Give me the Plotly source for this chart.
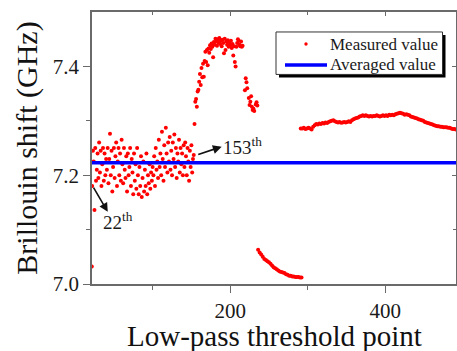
import plotly.graph_objects as go

# ---------------- data ----------------
# noisy region, one value per threshold point 22..153
noise_start = 22
noise_y = [
    7.180, 7.245, 7.225, 7.136, 7.250, 7.190, 7.210, 7.240, 7.195, 7.260,
    7.205, 7.245, 7.180, 7.220, 7.250, 7.190, 7.240, 7.200, 7.230,
    7.210, 7.250, 7.185, 7.230, 7.276, 7.200, 7.245, 7.170, 7.215, 7.250,
    7.195, 7.235, 7.260, 7.180, 7.225, 7.250, 7.200, 7.240, 7.190, 7.265,
    7.220, 7.185, 7.250, 7.210, 7.195, 7.235, 7.170, 7.240, 7.200, 7.215,
    7.250, 7.180, 7.230, 7.205, 7.165, 7.240, 7.190, 7.220, 7.175, 7.250,
    7.200, 7.165, 7.215, 7.180, 7.235, 7.160, 7.195, 7.225, 7.170, 7.210,
    7.180, 7.240, 7.165, 7.200, 7.185, 7.220, 7.175, 7.205, 7.190, 7.215,
    7.200, 7.235, 7.180, 7.250, 7.210, 7.225, 7.195, 7.265, 7.215, 7.240,
    7.200, 7.280, 7.230, 7.190, 7.255, 7.215, 7.287, 7.240, 7.205, 7.260,
    7.225, 7.270, 7.210, 7.245, 7.200, 7.260, 7.230, 7.275, 7.215, 7.250,
    7.195, 7.240, 7.225, 7.265, 7.205, 7.250, 7.220, 7.240, 7.200, 7.255,
    7.215, 7.260, 7.235, 7.200, 7.250, 7.225, 7.190, 7.245, 7.215, 7.255,
    7.205, 7.230, 7.237,
]

# rise / peak / fall region
peak_x = [154, 155, 156, 157, 158, 159, 160, 161, 162, 163, 164, 165, 166, 167,
          168, 169, 170, 171, 172, 173, 174, 175, 176, 177, 178, 179, 180, 181,
          182, 183, 184, 185, 186, 187, 188, 189, 190, 191, 192, 193, 194, 195,
          196, 197, 198, 199, 200, 201, 202, 203, 204, 205, 206, 207, 208, 209,
          210, 211, 212, 213, 214, 215, 216, 219, 220, 221, 222, 224, 225, 226,
          227, 228, 229, 230, 231, 233, 234, 235]
peak_y = [7.294, 7.335, 7.340, 7.326, 7.354, 7.357, 7.372, 7.386, 7.366, 7.397,
          7.380, 7.405, 7.381, 7.410, 7.427, 7.408, 7.430, 7.402, 7.433, 7.425,
          7.439, 7.432, 7.442, 7.436, 7.417, 7.445, 7.440, 7.451, 7.446, 7.438,
          7.450, 7.444, 7.452, 7.441, 7.447, 7.437, 7.449, 7.443, 7.424, 7.451,
          7.430, 7.446, 7.440, 7.448, 7.436, 7.444, 7.439, 7.447, 7.434, 7.441,
          7.420, 7.437, 7.408, 7.400, 7.436, 7.443, 7.450, 7.447, 7.440, 7.437,
          7.446, 7.436, 7.438, 7.356, 7.378, 7.371, 7.360, 7.342, 7.329, 7.335,
          7.345, 7.326, 7.320, 7.322, 7.318, 7.330, 7.334, 7.328]

# low plateau, every 2nd point 236..292
low_x = list(range(236, 293, 2))
low_y = [7.063, 7.058, 7.054, 7.050, 7.046, 7.044, 7.042, 7.040, 7.037, 7.034,
         7.031, 7.029, 7.027, 7.025, 7.023, 7.022, 7.021, 7.020, 7.018, 7.017,
         7.015, 7.015, 7.014, 7.014, 7.013, 7.013, 7.013, 7.012, 7.012]

# flat plateau, every 2nd point 291..491
flat_x = list(range(291, 492, 2))
flat_y = [7.286, 7.286, 7.287, 7.285, 7.286, 7.287, 7.286, 7.284, 7.289, 7.292,
          7.294, 7.293, 7.295, 7.294, 7.296, 7.295, 7.297, 7.296, 7.298, 7.299,
          7.300, 7.301, 7.299, 7.298, 7.297, 7.298, 7.2965, 7.297, 7.298, 7.297,
          7.298, 7.299, 7.298, 7.301, 7.303, 7.304, 7.305, 7.306, 7.308, 7.309,
          7.310, 7.309, 7.310, 7.309, 7.308, 7.309, 7.308, 7.309, 7.309, 7.310,
          7.309, 7.308, 7.309, 7.310, 7.309, 7.310, 7.309, 7.311, 7.310, 7.311,
          7.310, 7.312, 7.313, 7.314, 7.315, 7.314, 7.313, 7.311, 7.312, 7.311,
          7.310, 7.308, 7.307, 7.306, 7.305, 7.304, 7.303, 7.302, 7.301, 7.300,
          7.298, 7.297, 7.296, 7.295, 7.294, 7.293, 7.292, 7.291, 7.290, 7.290,
          7.289, 7.289, 7.288, 7.288, 7.288, 7.287, 7.287, 7.286, 7.285, 7.285,
          7.284]

stray_x = [21.5]
stray_y = [7.032]

avg_value = 7.223
x_range = [21.8, 491.2]
y_range = [7.0, 7.5]
x_ticks = [200, 400]
y_ticks = [7.0, 7.2, 7.4]
y_ticklabels = ["7.0", "7.2", "7.4"]
legend_labels = ["Measured value", "Averaged value"]
x_title = "Low-pass threshold point"
y_title = "Brillouin shift (GHz)"

# ---------------- build ----------------
noise_x = list(range(noise_start, noise_start + len(noise_y)))
meas_x = stray_x + noise_x + peak_x[:len(peak_y)] + low_x[:len(low_y)] + flat_x[:len(flat_y)]
meas_y = stray_y + noise_y + peak_y[:len(peak_x)] + low_y[:len(low_x)] + flat_y[:len(flat_x)]

FONT = "Liberation Serif, Times New Roman, serif"
RED = "#ff0000"
BLUE = "#0000ff"
AX = "#6a6a6a"
TXT = "#1a1a1a"

# plot-area geometry (pixels) used to place the hand-made legend / title
L, R, T, B = 92, 456, 12, 284.3
def px(xp):
    return (xp - L) / (R - L)
def py(yp):
    return (B - yp) / (B - T)

fig = go.Figure()
fig.add_trace(go.Scatter(
    x=meas_x, y=meas_y, mode="markers", name=legend_labels[0],
    marker=dict(color=RED, size=4.0, line=dict(width=0)),
))
fig.add_trace(go.Scatter(
    x=x_range, y=[avg_value, avg_value], mode="lines", name=legend_labels[1],
    line=dict(color=BLUE, width=3.4),
))
# helper trace for the mirrored (inward) top/right ticks
fig.add_trace(go.Scatter(x=[None], y=[None], xaxis="x2", yaxis="y2",
                         showlegend=False, hoverinfo="skip"))

fig.update_layout(
    width=457, height=351,
    margin=dict(l=L, r=457 - R, t=T, b=67),
    paper_bgcolor="white", plot_bgcolor="white",
    font=dict(family=FONT, color=TXT),
    showlegend=False,
    xaxis=dict(
        range=x_range, tickvals=x_ticks, ticktext=[str(v) for v in x_ticks],
        automargin=False,
        ticks="outside", ticklen=7, tickwidth=1.2, tickcolor=AX,
        showline=True, linecolor=AX, linewidth=1.5, mirror=True,
        showgrid=False, zeroline=False,
        tickfont=dict(family=FONT, size=21, color=TXT),
        minor=dict(tickvals=[100, 300], ticks="outside", ticklen=4, tickcolor=AX, tickwidth=1.2),
    ),
    yaxis=dict(
        range=y_range, tickvals=y_ticks, ticktext=y_ticklabels,
        automargin=False,
        ticks="outside", ticklen=7, tickwidth=1.2, tickcolor=AX,
        showline=True, linecolor=AX, linewidth=1.5, mirror=True,
        showgrid=False, zeroline=False,
        tickfont=dict(family=FONT, size=21, color=TXT),
        minor=dict(tickvals=[7.1, 7.3], ticks="outside", ticklen=4, tickcolor=AX, tickwidth=1.2),
        title=dict(text=y_title, font=dict(family=FONT, size=30, color="#111111"),
                   standoff=6),
    ),
    xaxis2=dict(
        overlaying="x", side="top", anchor="y", range=x_range, tickvals=x_ticks,
        automargin=False,
        ticks="inside", ticklen=4, tickwidth=1.2, tickcolor=AX, showticklabels=False,
        showline=False, showgrid=False, zeroline=False,
        minor=dict(tickvals=[100, 300], ticks="inside", ticklen=3, tickcolor=AX, tickwidth=1.2),
    ),
    yaxis2=dict(
        overlaying="y", side="right", anchor="x", range=y_range, tickvals=y_ticks,
        automargin=False,
        ticks="inside", ticklen=4, tickwidth=1.2, tickcolor=AX, showticklabels=False,
        showline=False, showgrid=False, zeroline=False,
        minor=dict(tickvals=[7.1, 7.3], ticks="inside", ticklen=3, tickcolor=AX, tickwidth=1.2),
    ),
)

# x-axis title as a positioned text
fig.add_annotation(xref="paper", yref="paper", x=px(274), y=py(336.5),
                   xanchor="center", yanchor="middle", text=x_title, showarrow=False,
                   borderpad=0, font=dict(family=FONT, size=29, color="#111111"))

# ---- legend (box with drop shadow) ----
fig.add_shape(type="rect", xref="paper", yref="paper", layer="above",
              x0=px(279), x1=px(445.5), y0=py(77.5), y1=py(35),
              fillcolor="black", line=dict(width=0))
fig.add_shape(type="rect", xref="paper", yref="paper", layer="above",
              x0=px(276), x1=px(442.5), y0=py(74.5), y1=py(32),
              fillcolor="white", line=dict(color="#333333", width=1))
fig.add_shape(type="circle", xref="paper", yref="paper", layer="above",
              x0=px(304.3), x1=px(307.7), y0=py(45.7), y1=py(42.3),
              fillcolor=RED, line=dict(width=0))
fig.add_shape(type="line", xref="paper", yref="paper", layer="above",
              x0=px(285), x1=px(327), y0=py(65), y1=py(65),
              line=dict(color=BLUE, width=3.4))
fig.add_annotation(xref="paper", yref="paper", x=px(328), y=py(44.5),
                   xanchor="left", yanchor="middle", text=legend_labels[0], showarrow=False,
                   font=dict(family=FONT, size=17, color=TXT))
fig.add_annotation(xref="paper", yref="paper", x=px(328), y=py(64.5),
                   xanchor="left", yanchor="middle", text=legend_labels[1], showarrow=False,
                   font=dict(family=FONT, size=17, color=TXT))

# ---- arrows (head, tail) and labels ----
fig.add_annotation(x=42.1, y=7.1327, ax=22.7, ay=7.180, axref="x", ayref="y",
                   text="", showarrow=True, arrowhead=2, arrowsize=1.1, arrowwidth=1.6,
                   arrowcolor="#111111", standoff=0, startstandoff=0)
fig.add_annotation(x=189, y=7.2525, ax=156.9, ay=7.237, axref="x", ayref="y",
                   text="", showarrow=True, arrowhead=2, arrowsize=1.1, arrowwidth=1.6,
                   arrowcolor="#111111", standoff=0, startstandoff=0)
fig.add_annotation(x=55, y=7.116, text="22<sup>th</sup>", showarrow=False,
                   font=dict(family=FONT, size=19, color=TXT))
fig.add_annotation(x=216, y=7.254, text="153<sup>th</sup>", showarrow=False,
                   font=dict(family=FONT, size=19, color=TXT))

fig.write_html("out.html")
